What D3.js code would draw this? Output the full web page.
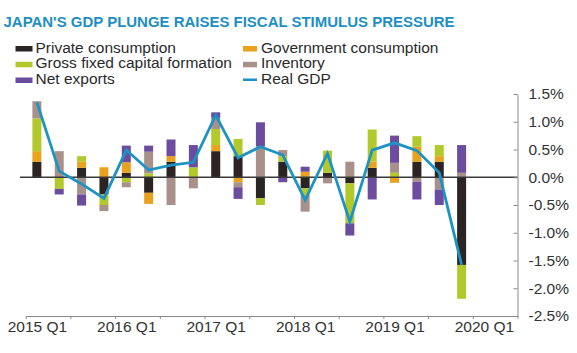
<!DOCTYPE html>
<html>
<head>
<meta charset="utf-8">
<script src="https://cdn.jsdelivr.net/npm/d3@7"></script>
<style>
  body { margin: 0; background: #fff; }
  svg { display: block; font-family: "Liberation Sans", Arial, sans-serif; }
  .axis path, .axis line { stroke: #8a8a8a; }
  .axis text { fill: #333; font-size: 15.5px; }
</style>
</head>
<body>
<svg width="577" height="353"></svg>
<script>
// quarters 2015 Q1 .. 2019 Q4, contributions to q/q GDP growth (% points)
const quarters = ["2015 Q1","2015 Q2","2015 Q3","2015 Q4","2016 Q1","2016 Q2","2016 Q3","2016 Q4",
                  "2017 Q1","2017 Q2","2017 Q3","2017 Q4","2018 Q1","2018 Q2","2018 Q3","2018 Q4",
                  "2019 Q1","2019 Q2","2019 Q3","2019 Q4"];
const privateCons = [0.28, 0, 0.17, -0.31, 0.08, -0.28, 0.28, 0, 0.47, 0.38, -0.38, 0.28, -0.20, 0.08, -0.11, 0.17, 0, 0.28, 0.28, -1.58];
const govCons     = [0.19, 0, 0.11, 0.18, 0.19, -0.20, 0.10, 0, 0.11, -0.09, 0, 0, 0.10, 0, 0, 0.11, -0.10, 0.27, 0.10, 0];
const gfcf        = [0.59, -0.21, 0.10, -0.19, -0.09, 0.07, 0, 0.18, 0.29, 0.31, -0.12, 0.10, -0.12, 0.40, -0.72, 0.58, 0.08, 0.19, 0.20, -0.61];
const inventory   = [0.31, 0.47, -0.31, -0.11, -0.09, 0.39, -0.50, -0.20, 0.20, -0.09, 0.56, 0.11, -0.30, -0.11, 0.28, 0, 0.18, -0.08, -0.22, 0.08];
const netExports  = [0, -0.10, -0.20, 0, 0.30, 0.11, 0.30, 0.40, 0.10, -0.21, 0.43, -0.09, 0.09, 0, -0.22, -0.40, 0.49, -0.32, -0.28, 0.50];
const realGDP     = [1.35, 0.11, -0.12, -0.38, 0.49, 0.13, 0.22, 0.27, 1.12, 0.35, 0.55, 0.40, -0.41, 0.43, -0.80, 0.49, 0.62, 0.48, 0.08, -1.58];

const yearLabels = ["2015 Q1","2016 Q1","2017 Q1","2018 Q1","2019 Q1","2020 Q1"];
const yTicks = [1.5, 1.0, 0.5, 0.0, -0.5, -1.0, -1.5, -2.0, -2.5];

const keys = ["Private consumption","Government consumption","Gross fixed capital formation","Inventory","Net exports"];
const colors = ["#2b2422","#e8a21e","#b3c92b","#a8918a","#6b4c9e"];
const lineColor = "#1d93c4";

const rows = quarters.map((q, i) => ({
  q: i,
  "Private consumption": privateCons[i],
  "Government consumption": govCons[i],
  "Gross fixed capital formation": gfcf[i],
  "Inventory": inventory[i],
  "Net exports": netExports[i]
}));

const svg = d3.select("svg");

// title
svg.append("text")
  .attr("x", 3.5).attr("y", 26.5)
  .attr("textLength", 451).attr("lengthAdjust", "spacingAndGlyphs")
  .style("font-size", "14.5px").style("font-weight", "bold")
  .style("fill", "#1d8fc5")
  .text("JAPAN'S GDP PLUNGE RAISES FISCAL STIMULUS PRESSURE");

// legend
const legendItems = [
  {name: "Private consumption", color: colors[0], x: 15.5, y: 52.5, w: 17},
  {name: "Government consumption", color: colors[1], x: 243, y: 52.5, w: 14},
  {name: "Gross fixed capital formation", color: colors[2], x: 15.5, y: 68.3, w: 17},
  {name: "Inventory", color: colors[3], x: 243, y: 68.3, w: 14},
  {name: "Net exports", color: colors[4], x: 15.5, y: 84, w: 17},
  {name: "Real GDP", color: lineColor, x: 243, y: 84, w: 14, line: true}
];
const lg = svg.append("g").selectAll("g").data(legendItems).join("g");
lg.append("rect")
  .attr("x", d => d.x)
  .attr("y", d => d.line ? d.y - 5.5 : d.y - 6.5)
  .attr("width", d => d.w)
  .attr("height", d => d.line ? 2.5 : 5.5)
  .attr("fill", d => d.color);
lg.append("text")
  .attr("x", d => d.x + d.w + (d.w > 15 ? 3 : 4))
  .attr("y", d => d.y)
  .style("font-size", "15.5px").style("fill", "#2a2a2a")
  .text(d => d.name);

// scales
const x0 = 25.7, x1 = 517.5;
const xq = d3.scaleLinear().domain([0, 22]).range([x0, x1]);
const y = d3.scaleLinear().domain([-2.5, 1.5]).range([316, 94]);
const barW = 9;

// stacked bars
const series = d3.stack().keys(keys).offset(d3.stackOffsetDiverging)(rows);
svg.append("g").selectAll("g").data(series).join("g")
  .attr("fill", (d, i) => colors[i])
  .selectAll("rect").data(d => d).join("rect")
    .attr("x", d => xq(d.data.q + 0.5) - barW / 2)
    .attr("width", barW)
    .attr("y", d => y(Math.max(d[0], d[1])))
    .attr("height", d => Math.abs(y(d[0]) - y(d[1])));

// zero line
svg.append("line")
  .attr("x1", 20).attr("x2", x1)
  .attr("y1", y(0)).attr("y2", y(0))
  .attr("stroke", "#3a3a3a").attr("stroke-width", 1.5);

// real GDP line
svg.append("path")
  .datum(realGDP)
  .attr("fill", "none")
  .attr("stroke", lineColor)
  .attr("stroke-width", 2.8)
  .attr("d", d3.line().x((d, i) => xq(i + 0.5)).y(d => y(d)));

// x axis: ticks every half year, labels under each Q1
svg.append("g").attr("class", "axis")
  .attr("transform", `translate(0,${y(-2.5)})`)
  .call(d3.axisBottom(xq).tickValues(d3.range(0, 23, 2)).tickSize(3).tickSizeOuter(0).tickFormat(""));
svg.append("g").attr("class", "axis")
  .attr("transform", `translate(0,${y(-2.5)})`)
  .call(d3.axisBottom(xq).tickValues(yearLabels.map((d, i) => i * 4 + 0.5)).tickSize(0).tickPadding(5)
        .tickFormat((d, i) => yearLabels[i]))
  .call(g => g.select(".domain").remove());

// y axis on the right, ticks pointing in
svg.append("g").attr("class", "axis")
  .attr("transform", `translate(${x1},0)`)
  .call(d3.axisRight(y).tickValues(yTicks).tickSize(-4).tickSizeOuter(0).tickPadding(11)
        .tickFormat(d => d.toFixed(1) + "%"));
</script>
</body>
</html>
